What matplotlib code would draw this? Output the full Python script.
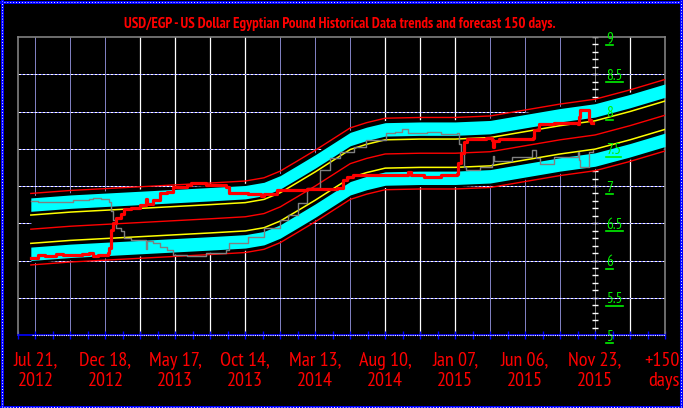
import matplotlib
matplotlib.use("Agg")
import matplotlib.pyplot as plt
from matplotlib import font_manager
from matplotlib.lines import Line2D
import numpy as np

# ---------------- data ----------------
title_text = "USD/EGP - US Dollar Egyptian Pound Historical Data trends and forecast 150 days."

x_tick_days = [0, 150, 300, 450, 600, 750, 900, 1050, 1200, 1350]
x_tick_labels = ["Jul 21,\n2012", "Dec 18,\n2012", "May 17,\n2013", "Oct 14,\n2013",
                 "Mar 13,\n2014", "Aug 10,\n2014", "Jan 07,\n2015", "Jun 06,\n2015",
                 "Nov 23,\n2015", "+150\ndays"]
y_tick_values = [5, 5.5, 6, 6.5, 7, 7.5, 8, 8.5, 9]
y_tick_labels = ["5", "5.5", "6", "6.5", "7", "7.5", "8", "8.5", "9"]

# trend (centre) line of the channel
mid_days = [-10, 75, 150, 225, 300, 375, 450, 490, 525, 541, 560, 600, 640, 675,
            710, 750, 825, 900, 975, 1050, 1125, 1200, 1275, 1350]
mid_vals = [6.42, 6.46, 6.485, 6.51, 6.535, 6.56, 6.587, 6.63, 6.72, 6.78, 6.85, 7.00,
            7.16, 7.30, 7.37, 7.43, 7.44, 7.44, 7.46, 7.54, 7.62, 7.685, 7.81, 7.95]

# channel line offsets from the trend line
red_offset = 0.48
cyan_outer = 0.42
cyan_inner = 0.24
yellow_offset = 0.19

# historical price (thick red)
price_days = [-10, 5, 20, 43, 60, 80, 100, 114, 124, 135, 150, 156, 158, 162, 166, 173,
              183, 189, 204, 225, 234, 236, 240, 252, 267, 282, 294, 324, 334, 351, 366,
              408, 414, 456, 477, 483, 490, 519, 582, 646, 660, 667, 681, 729, 790, 798,
              805, 833, 869, 903, 907, 913, 919, 925, 966, 980, 982, 984, 995, 1022,
              1060, 1066, 1070, 1079, 1113, 1163, 1165, 1167, 1186, 1188, 1192, 1196]
price_vals = [6.04, 6.07, 6.06, 6.085, 6.08, 6.08, 6.09, 6.095, 6.06, 6.07, 6.08, 6.10,
              6.17, 6.41, 6.50, 6.57, 6.63, 6.69, 6.71, 6.745, 6.75, 6.82, 6.76, 6.81,
              6.90, 6.92, 6.98, 7.01, 7.04, 7.035, 7.01, 6.98, 6.90, 6.89, 6.89, 6.86,
              6.89, 6.95, 6.96, 6.97, 7.08, 7.12, 7.15, 7.15, 7.15, 7.19, 7.15, 7.115,
              7.15, 7.16, 7.31, 7.44, 7.595, 7.627, 7.64, 7.62, 7.52, 7.60, 7.63, 7.63,
              7.625, 7.64, 7.75, 7.83, 7.84, 7.83, 7.93, 8.02, 8.02, 7.89, 7.85, 7.845]

# mirrored series (thin gray)
mirror_days = [-10, 5, 43, 80, 114, 124, 141, 158, 162, 166, 173, 183, 189, 204, 231,
               236, 240, 252, 267, 282, 294, 324, 351, 366, 408, 414, 456, 491, 525,
               541, 562, 583, 610, 631, 652, 682, 709, 751, 771, 785, 798, 840, 869,
               903, 909, 913, 919, 923, 953, 980, 982, 984, 1022, 1064, 1070, 1074,
               1081, 1113, 1163, 1165, 1167, 1186, 1188, 1196]
mirror_vals = [6.80, 6.78, 6.79, 6.81, 6.82, 6.845, 6.82, 6.79, 6.66, 6.55, 6.43, 6.39,
               6.30, 6.28, 6.28, 6.16, 6.26, 6.23, 6.185, 6.14, 6.07, 6.06, 6.06, 6.10,
               6.14, 6.23, 6.31, 6.43, 6.55, 6.61, 6.77, 6.97, 7.215, 7.37, 7.46, 7.53,
               7.62, 7.71, 7.73, 7.76, 7.715, 7.73, 7.70, 7.71, 7.57, 7.46, 7.25, 7.22,
               7.26, 7.30, 7.40, 7.33, 7.39, 7.48, 7.48, 7.37, 7.30, 7.385, 7.45, 7.35,
               7.26, 7.26, 7.46, 7.48]

# vertical grid every 75 days: 'd' dotted blue/white, 's' solid white, 'n' now-line
vgrid_days = [0, 75, 150, 225, 300, 375, 450, 525, 600, 675, 750, 825, 900, 975,
              1050, 1125, 1200, 1275]
vgrid_style = ['d', 'd', 'd', 's', 's', 's', 's', 'd', 'd', 'd', 's', 's', 's', 'd',
               'd', 'd', 'n', 's']
hgrid_vals = [5.5, 6, 6.5, 7, 7.5, 8, 8.5]

# ---------------- style ----------------
names = {f.name for f in font_manager.fontManager.ttflist}
NARROW = "DejaVu Sans"
for cand in ["Liberation Sans Narrow", "Arial Narrow", "PT Sans Narrow", "Archivo Narrow",
             "Roboto Condensed", "Open Sans Condensed", "Barlow Semi Condensed"]:
    if cand in names:
        NARROW = cand
        break

W, H = 683, 408
RED = "#FF0000"
BLUE = "#0000FF"
GREEN = "#00F000"
CYAN = "#00FFFF"
YELLOW = "#FFFF00"
GRAY = "#808080"

fig = plt.figure(figsize=(W / 100, H / 100), dpi=100, facecolor="black")
ax = fig.add_axes([18 / W, 1 - 335 / H, (665 - 18) / W, (335 - 37) / H])
ax.set_facecolor("black")
ax.set_xlim(-10, 1350)
ax.set_ylim(5, 9)

md = np.array(mid_days, dtype=float)
mv = np.array(mid_vals, dtype=float)

# grid
for d, s in zip(vgrid_days, vgrid_style):
    if s == 's':
        ax.axvline(d, color="white", lw=0.9, zorder=1)
    elif s == 'd':
        ax.axvline(d, color=BLUE, lw=0.72, ls=(0, (1, 1)), zorder=1)
        ax.axvline(d, color="white", lw=0.72, ls=(1, (1, 1)), zorder=1)
    else:
        ax.axvline(d, color="white", lw=0.72, ls=(0, (1, 1)), zorder=1)
        ax.plot([d] * 41, np.linspace(5, 9, 41), ls="none", marker="_", ms=5,
                mew=1, color="white", zorder=1)
for v in hgrid_vals:
    ax.axhline(v, color=BLUE, lw=0.72, zorder=1)
    ax.axhline(v, color="white", lw=0.72, ls=(0, (3, 1)), zorder=1)

# channel
ax.fill_between(md, mv - 0.45, mv + 0.45, color="black", lw=0, zorder=2)
ax.fill_between(md, mv + cyan_inner, mv + cyan_outer, color=CYAN, lw=0, zorder=3)
ax.fill_between(md, mv - cyan_outer, mv - cyan_inner, color=CYAN, lw=0, zorder=3)
ax.plot(md, mv + yellow_offset, color=YELLOW, lw=1.1, zorder=4)
ax.plot(md, mv - yellow_offset, color=YELLOW, lw=1.1, zorder=4)
ax.plot(md, mv + red_offset, color=RED, lw=1.0, zorder=5)
ax.plot(md, mv - red_offset, color=RED, lw=1.0, zorder=5)
ax.plot(md, mv, color=RED, lw=1.0, zorder=5)

# series
ax.plot(mirror_days, mirror_vals, color=GRAY, lw=1.0, drawstyle="steps-post", zorder=6)
ax.plot(price_days, price_vals, color=RED, lw=2.3, drawstyle="steps-post", zorder=7)

# spines
for side in ("left", "top", "right"):
    ax.spines[side].set_color(GRAY)
    ax.spines[side].set_linewidth(1.2)
ax.spines["bottom"].set_color(BLUE)
ax.spines["bottom"].set_linewidth(1.2)
ax.plot([-10, 1350], [5, 5], color="white", lw=0.8, ls=(1, (1, 1)), clip_on=False, zorder=9)

ax.set_yticks([])
ax.set_xticks(x_tick_days)
ax.set_xticklabels(x_tick_labels[:-1] + [""], fontsize=12, family=NARROW, color=RED,
                   linespacing=1.15)
ax.set_xticks([d + 37.5 for d in range(-75, 1350, 75)] + list(range(75, 1350, 150)), minor=True)
ax.tick_params(axis="x", which="both", direction="inout", length=6, width=1, color=BLUE)
ax.tick_params(axis="x", which="major", pad=9)

# last label (+150 days) sits at the right edge of the picture
last = fig.text(680 / W, 0, x_tick_labels[-1], color=RED, fontsize=12, family=NARROW,
                ha="right", va="top", multialignment="right", linespacing=1.15)

# title
title = fig.text(0.497, 1 - 24 / H, title_text, color=RED, fontsize=10, fontweight="bold",
                 family=NARROW, ha="center", va="center")

# green value labels inside plot
gtexts = []
for v, lab in zip(y_tick_values, y_tick_labels):
    t = ax.text(1224, v - 0.075, lab, color=GREEN, fontsize=11, family=NARROW,
                ha="left", va="baseline", zorder=8, clip_on=False)
    gtexts.append(t)

# figure border (blue dotted)
for xs, ys in [([1, W - 1], [H - 1.5, H - 1.5]), ([1, W - 1], [1.5, 1.5]),
               ([1.5, 1.5], [1, H - 1]), ([W - 2.5, W - 2.5], [1, H - 1])]:
    fig.add_artist(Line2D(np.array(xs) / W, np.array(ys) / H, color=BLUE, lw=2.2))
    fig.add_artist(Line2D(np.array(xs) / W, np.array(ys) / H, color="white", lw=0.7,
                          ls=(0, (1, 2))))

# fit text widths to the reference
fig.canvas.draw()
r = fig.canvas.get_renderer()
tw = title.get_window_extent(r).width
title.set_fontsize(10 * 435.0 / tw)
lbl = ax.get_xticklabels()[1]
lw_ = lbl.get_window_extent(r).width
fs = 12 * 52.0 / lw_
for t in ax.get_xticklabels():
    t.set_fontsize(fs)
last.set_fontsize(fs)

fig.canvas.draw()
r = fig.canvas.get_renderer()
top_px = ax.get_xticklabels()[1].get_window_extent(r).y1
last.set_y(top_px / H)
for t in gtexts:
    bb = t.get_window_extent(r)
    y = (bb.y0 + (bb.y1 - bb.y0) * 0.18 - 2) / H
    fig.add_artist(Line2D([bb.x0 / W, bb.x1 / W], [y, y], color=GREEN, lw=1.2))

fig.savefig("out.png", dpi=100, facecolor="black")
